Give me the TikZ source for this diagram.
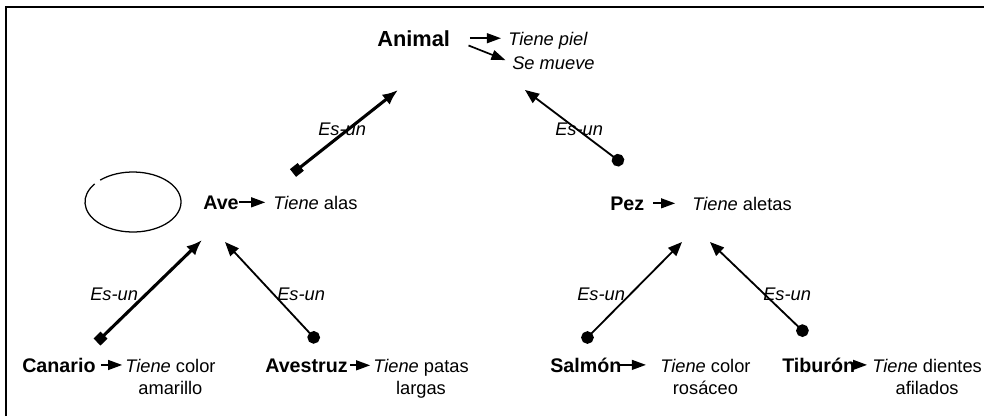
\documentclass[tikz,border=0pt]{standalone}
\usepackage{fontspec}
\setmainfont{Liberation Sans}
\usetikzlibrary{arrows.meta}

\begin{document}
\begin{tikzpicture}[x=0.025cm,y=-0.025cm,
  lbl/.style={inner sep=0pt,anchor=base west,font=\fontsize{13}{15.6}\selectfont},
  nm/.style={lbl,font=\fontsize{14}{16.8}\selectfont\bfseries},
  tn/.style={lbl,align=center},
  isa/.style={{Square[length=7pt,width=7pt]}-{Latex[length=11pt,width=9pt]},line width=2.2pt},
  isb/.style={{Circle[length=9pt]}-{Triangle[length=10pt,width=8pt]},line width=1.3pt},
  sarr/.style={-{Triangle[length=10pt,width=7pt]},line width=1.2pt}]
\useasboundingbox (0,0) rectangle (984,416);
\draw[line width=0.9pt] (6,416) -- (6,7) -- (984,7);
% nombres y propiedades
\node[nm,font=\fontsize{15.5}{18}\selectfont\bfseries] (animal) at (377,46) {Animal};
\node[lbl] (piel) at (508,45) {\textit{Tiene piel}};
\node[lbl] (mueve) at (512,69) {\textit{Se mueve}};
\node[nm] (ave) at (203,209) {Ave};
\node[lbl] (aveT) at (273,209) {\textit{Tiene} alas};
\node[nm] (pez) at (610,210) {Pez};
\node[lbl] (pezT) at (692,210) {\textit{Tiene} aletas};
\node[nm] (canario) at (22,372) {Canario};
\node[tn] (canT) at (125,394) {\textit{Tiene} color\\amarillo};
\node[nm] (avestruz) at (265,372) {Avestruz};
\node[tn] (avesT) at (373,394) {\textit{Tiene} patas\\largas};
\node[nm] (salmon) at (550,372) {Salmón};
\node[tn] (salT) at (660,394) {\textit{Tiene} color\\rosáceo};
\node[nm] (tiburon) at (782,372) {Tiburón};
\node[tn] (tibT) at (872,394) {\textit{Tiene} dientes\\afilados};
% etiquetas
\node[lbl] (esAve) at (318,135) {\textit{Es-un}};
\node[lbl] (esPez) at (555,135) {\textit{Es-un}};
\node[lbl] (esCan) at (90,300) {\textit{Es-un}};
\node[lbl] (esAves) at (277,300) {\textit{Es-un}};
\node[lbl] (esSal) at (577,300) {\textit{Es-un}};
\node[lbl] (esTib) at (763,300) {\textit{Es-un}};
% extremos de los enlaces
\coordinate (aveFoot) at (293,173); \coordinate (aveTip) at (398,90);
\coordinate (pezFoot) at (623,164); \coordinate (pezTip) at (525,90);
\coordinate (canFoot) at (97,342); \coordinate (canTip) at (202,240);
\coordinate (avesFoot) at (318,342); \coordinate (avesTip) at (225,242);
\coordinate (salFoot) at (583,342); \coordinate (salTip) at (682,242);
\coordinate (tibFoot) at (807,335); \coordinate (tibTip) at (710,242);
\draw[isa] (aveFoot)--(aveTip); \draw[isb] (pezFoot)--(pezTip);
\draw[isa] (canFoot)--(canTip); \draw[isb] (avesFoot)--(avesTip);
\draw[isb] (salFoot)--(salTip); \draw[isb] (tibFoot)--(tibTip);
% propiedades
\draw[sarr,shorten <=14pt,shorten >=5pt] (animal.east)--(animal.east -| piel.west);
\draw[sarr,shorten <=14pt,shorten >=5pt] (animal.east)--(mueve.west);
\draw[sarr,shorten >=5.5pt] (ave.east)--(ave.east -| aveT.west);
\draw[sarr,shorten <=6.4pt,shorten >=12pt] (pez.east)--(pez.east -| pezT.west);
\draw[sarr,shorten <=3.5pt,shorten >=2pt] (canario.east)--(canario.east -| canT.west);
\draw[sarr,shorten <=1.5pt,shorten >=2pt] (avestruz.east)--(avestruz.east -| avesT.west);
\draw[sarr,shorten <=-2pt,shorten >=10pt] (salmon.east)--(salmon.east -| salT.west);
\draw[sarr,shorten >=3.5pt] (tiburon.east)--(tiburon.east -| tibT.west);
% elipse abierta
\draw[line width=0.9pt] ([shift={(227:48 and 30)}]133,202) arc[start angle=227,end angle=577,x radius=48,y radius=30];
\end{tikzpicture}
\end{document}
